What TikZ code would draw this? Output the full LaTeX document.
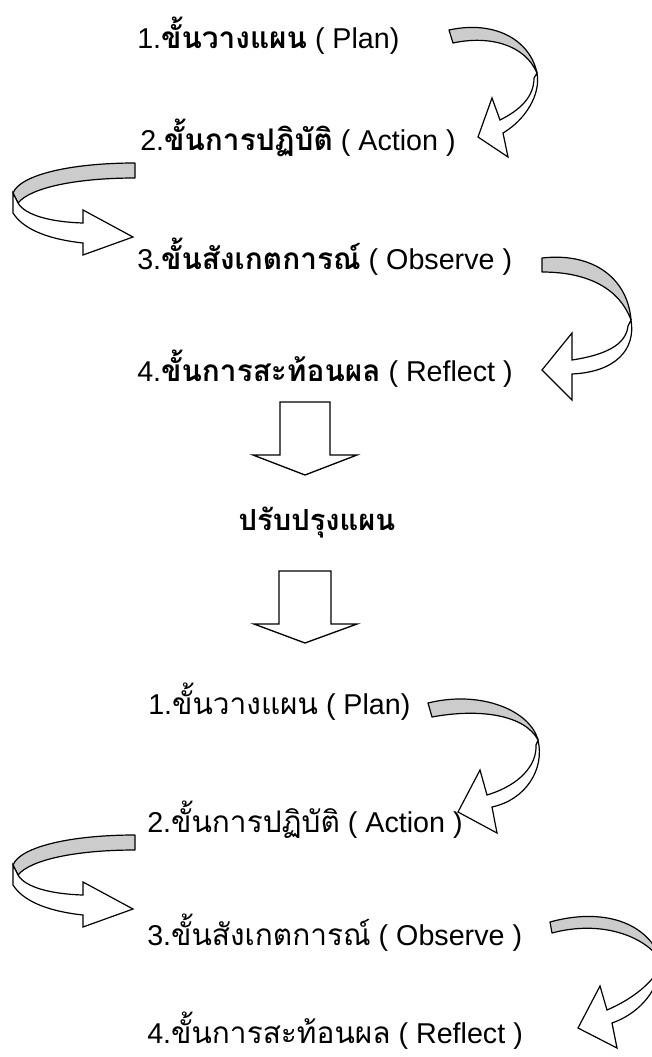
\documentclass[tikz,border=0pt]{standalone}
\usepackage{fontspec}
\setmainfont{Liberation Sans}
\newfontfamily\thaifont[Script=Thai,Scale=1.04]{Loma}
\newcommand\THB[1]{{\thaifont\bfseries #1}}
\newcommand\THR[1]{{\thaifont #1}}
\begin{document}
\begin{tikzpicture}[x=0.75pt,y=-0.75pt,
  lbl/.style={anchor=base west,inner sep=0pt,font=\fontsize{21.5}{25}\selectfont},
  back/.style={draw=black,fill=black!20,line width=0.9pt,line join=round},
  front/.style={draw=black,fill=white,line width=0.9pt,line join=miter},
  blockarrow/.style={draw=black,fill=white,line width=1pt,line join=miter}]
\clip (0,0) rectangle (652,1057);
\fill[white] (0,0) rectangle (652,1057);

% ---- upper cycle labels
\node[lbl] (t1) at (137,48)  {1.\THB{ขั้นวางแผน} ( Plan)};
\node[lbl] (t2) at (140,150) {2.\THB{ขั้นการปฏิบัติ} ( Action )};
\node[lbl] (t3) at (137,269) {3.\THB{ขั้นสังเกตการณ์} ( Observe )};
\node[lbl] (t4) at (137,381) {4.\THB{ขั้นการสะท้อนผล} ( Reflect )};

% ---- improve plan
\node[inner sep=0pt,anchor=base,font=\fontsize{21}{24}\selectfont] (imp) at (317,530) {\THB{ปรับปรุงแผน}};

% ---- lower cycle labels
\node[lbl] (b1) at (148,714)  {1.\THR{ขั้นวางแผน} ( Plan)};
\node[lbl] (b2) at (147,832)  {2.\THR{ขั้นการปฏิบัติ} ( Action )};
\node[lbl] (b3) at (147,945)  {3.\THR{ขั้นสังเกตการณ์} ( Observe )};
\node[lbl] (b4) at (147,1043) {4.\THR{ขั้นการสะท้อนผล} ( Reflect )};

% ---- down block arrows
\draw[blockarrow] (280,402) -- (330,402) -- (330,455) -- (357,455) -- (305,475) -- (253,455) -- (280,455) -- cycle;
\draw[blockarrow] (279,571) -- (331,571) -- (331,624) -- (357,624) -- (305,643) -- (254,624) -- (279,624) -- cycle;

% ---- A1: Plan -> Action (upper)
\draw[back] (449,30) .. controls (495,20) and (530,40) .. (537,73)
            .. controls (525,45) and (490,35) .. (453,43) -- cycle;
\draw[front] (537,73) .. controls (541,95) and (525,120) .. (503,133)
             -- (508,157) -- (478,137) -- (492,98) -- (500,120)
             .. controls (520,110) and (534,97) .. (534,78) -- cycle;

% ---- B1: Action -> Observe (upper, left)
\draw[back] (135,163) -- (135,178) .. controls (75,178) and (30,188) .. (18,203)
            -- (13,193) .. controls (20,175) and (70,163) .. (135,163) -- cycle;
\draw[front] (13,193) -- (13,213) .. controls (25,232) and (55,240) .. (83,243)
             -- (83,255) -- (133,237) -- (83,210) -- (83,223)
             .. controls (50,222) and (25,215) .. (18,203) -- cycle;

% ---- A2: Observe -> Reflect (upper)
\draw[back] (542,258) .. controls (595,252) and (628,280) .. (631,320)
            .. controls (620,290) and (590,272) .. (542,272) -- cycle;
\draw[front] (631,320) .. controls (636,350) and (615,372) .. (572,374)
             -- (572,400) -- (542,370) -- (572,333) -- (572,360)
             .. controls (605,355) and (626,345) .. (628,326) -- cycle;

% ---- A3: Plan -> Action (lower)
\draw[back] (428,703) .. controls (480,690) and (530,710) .. (538,740)
            .. controls (525,715) and (480,708) .. (432,717) -- cycle;
\draw[front] (538,740) .. controls (545,770) and (525,800) .. (492,807)
             -- (497,833) -- (458,812) -- (480,770) -- (487,795)
             .. controls (520,785) and (537,765) .. (536,745) -- cycle;

% ---- B2: Action -> Observe (lower, left)
\begin{scope}[shift={(0,672)}]
\draw[back] (135,163) -- (135,178) .. controls (75,178) and (30,188) .. (18,203)
            -- (13,193) .. controls (20,175) and (70,163) .. (135,163) -- cycle;
\draw[front] (13,193) -- (13,213) .. controls (25,232) and (55,240) .. (83,243)
             -- (83,255) -- (133,237) -- (83,210) -- (83,223)
             .. controls (50,222) and (25,215) .. (18,203) -- cycle;
\end{scope}

% ---- A4: Observe -> Reflect (lower)
\draw[back] (550,922) .. controls (600,908) and (648,920) .. (662,962)
            .. controls (645,935) and (600,920) .. (552,933) -- cycle;
\draw[front] (662,962) .. controls (658,995) and (635,1015) .. (612,1023)
             -- (617,1048) -- (578,1028) -- (600,986) -- (607,1010)
             .. controls (635,998) and (655,980) .. (660,966) -- cycle;
\end{tikzpicture}
\end{document}
